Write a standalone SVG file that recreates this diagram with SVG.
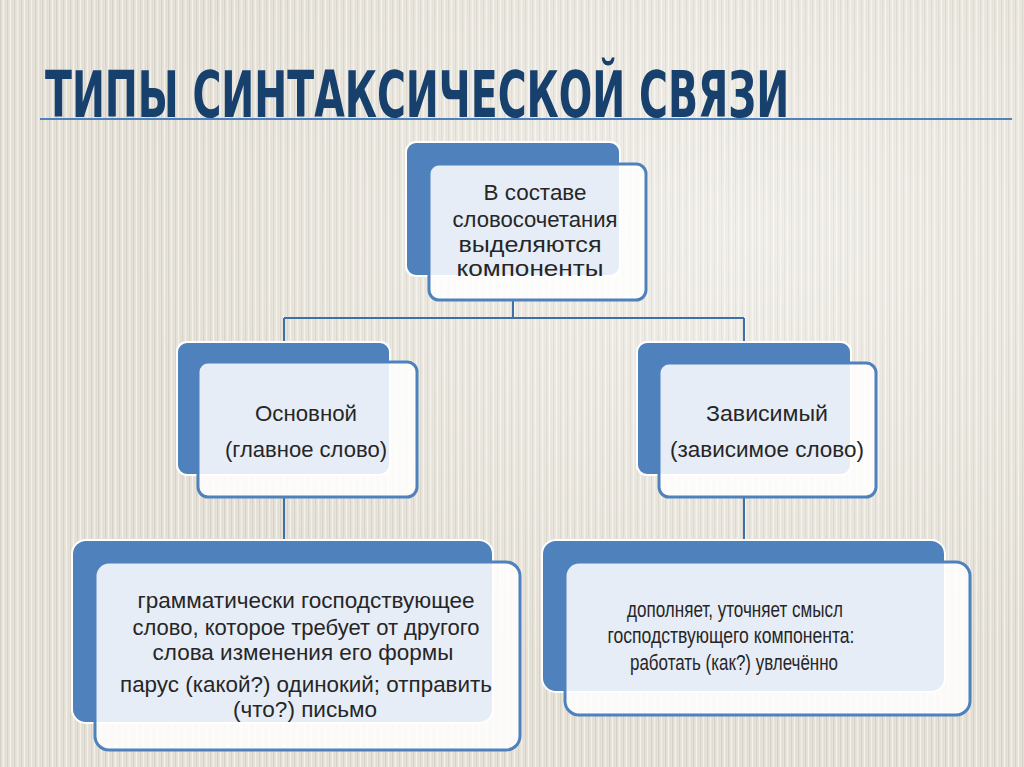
<svg xmlns="http://www.w3.org/2000/svg" width="1024" height="767" viewBox="0 0 1024 767">
<defs>
<pattern id="stripes" width="7" height="40" patternUnits="userSpaceOnUse">
<rect width="7" height="40" fill="#e7e3da"/>
<rect x="0" width="1.2" height="40" fill="#d2cdc2" opacity="0.8"/>
<rect x="3" width="1" height="40" fill="#f4f2ec" opacity="0.9"/>
<rect x="5" width="0.8" height="40" fill="#dcd7cd" opacity="0.7"/>
</pattern>
<radialGradient id="glow" cx="0.72" cy="0.3" r="0.6">
<stop offset="0" stop-color="#ffffff" stop-opacity="0.45"/>
<stop offset="1" stop-color="#ffffff" stop-opacity="0"/>
</radialGradient>
<style>
.back{fill:#4f81bd;stroke:#ffffff;stroke-width:2}
.front{fill:#ffffff;fill-opacity:0.86;stroke:#4f81bd;stroke-width:3}
.t{font-family:"Liberation Sans","DejaVu Sans",sans-serif;font-size:22px;fill:#262626;text-anchor:middle}
.s{font-family:"Liberation Sans","DejaVu Sans",sans-serif;font-size:22px;fill:#262626;text-anchor:middle}
.r{font-family:"Liberation Sans","DejaVu Sans",sans-serif;font-size:22px;fill:#262626;text-anchor:middle}
.conn{fill:none;stroke:#3f6fa8;stroke-width:2}
.title{font-family:"DejaVu Sans","Liberation Sans",sans-serif;font-weight:bold;font-size:64px;fill:#17406d}
</style>
</defs>
<rect width="1024" height="767" fill="url(#stripes)"/>
<rect width="1024" height="767" fill="url(#glow)"/>
<g id="title">
<line x1="40" y1="119" x2="1012" y2="119" stroke="#4f81bd" stroke-width="2"/>
<text class="title" transform="translate(45,117) scale(0.616,1)" x="0" y="0">ТИПЫ СИНТАКСИЧЕСКОЙ СВЯЗИ</text>
</g>
<g id="connectors">
<path class="conn" d="M513 300 V318 M284 318 H744 M284 318 V342 M744 318 V342 M284 497 V540 M744 497 V540"/>
</g>
<g id="node-top">
<rect class="back" x="406" y="142" width="214" height="134" rx="10"/>
<rect class="front" x="429" y="164" width="217" height="136" rx="10"/>
<text class="t" x="535" y="200" textLength="103" lengthAdjust="spacingAndGlyphs">В составе</text>
<text class="t" x="535" y="227" textLength="165" lengthAdjust="spacingAndGlyphs">словосочетания</text>
<text class="t" x="530" y="252" textLength="143" lengthAdjust="spacingAndGlyphs">выделяются</text>
<text class="t" x="530" y="276" textLength="147" lengthAdjust="spacingAndGlyphs">компоненты</text>
</g>
<g id="node-main">
<rect class="back" x="177" y="342" width="213" height="133" rx="10"/>
<rect class="front" x="198" y="362" width="219" height="135" rx="10"/>
<text class="t" x="306" y="421" textLength="102" lengthAdjust="spacingAndGlyphs">Основной</text>
<text class="t" x="306" y="457" textLength="162" lengthAdjust="spacingAndGlyphs">(главное слово)</text>
</g>
<g id="node-dep">
<rect class="back" x="637" y="342" width="214" height="133" rx="10"/>
<rect class="front" x="659" y="363" width="217" height="134" rx="10"/>
<text class="t" x="767" y="421" textLength="122" lengthAdjust="spacingAndGlyphs">Зависимый</text>
<text class="t" x="767" y="457" textLength="194" lengthAdjust="spacingAndGlyphs">(зависимое слово)</text>
</g>
<g id="node-main-desc">
<rect class="back" x="72" y="540" width="421" height="183" rx="14"/>
<rect class="front" x="95" y="562" width="425" height="188" rx="14"/>
<text class="s" x="306" y="608" textLength="337" lengthAdjust="spacingAndGlyphs">грамматически господствующее</text>
<text class="s" x="306" y="635" textLength="347" lengthAdjust="spacingAndGlyphs">слово, которое требует от другого</text>
<text class="s" x="303" y="660" textLength="301" lengthAdjust="spacingAndGlyphs">слова изменения его формы</text>
<text class="s" x="306" y="692" textLength="372" lengthAdjust="spacingAndGlyphs">парус (какой?) одинокий; отправить</text>
<text class="s" x="305" y="717" textLength="144" lengthAdjust="spacingAndGlyphs">(что?) письмо</text>
</g>
<g id="node-dep-desc">
<rect class="back" x="542" y="540" width="403" height="152" rx="14"/>
<rect class="front" x="565" y="562" width="405" height="153" rx="14"/>
<text class="r" x="735" y="617" textLength="216" lengthAdjust="spacingAndGlyphs">дополняет, уточняет смысл</text>
<text class="r" x="731" y="643" textLength="247" lengthAdjust="spacingAndGlyphs">господствующего компонента:</text>
<text class="r" x="734" y="670" textLength="208" lengthAdjust="spacingAndGlyphs">работать (как?) увлечённо</text>
</g>
</svg>
